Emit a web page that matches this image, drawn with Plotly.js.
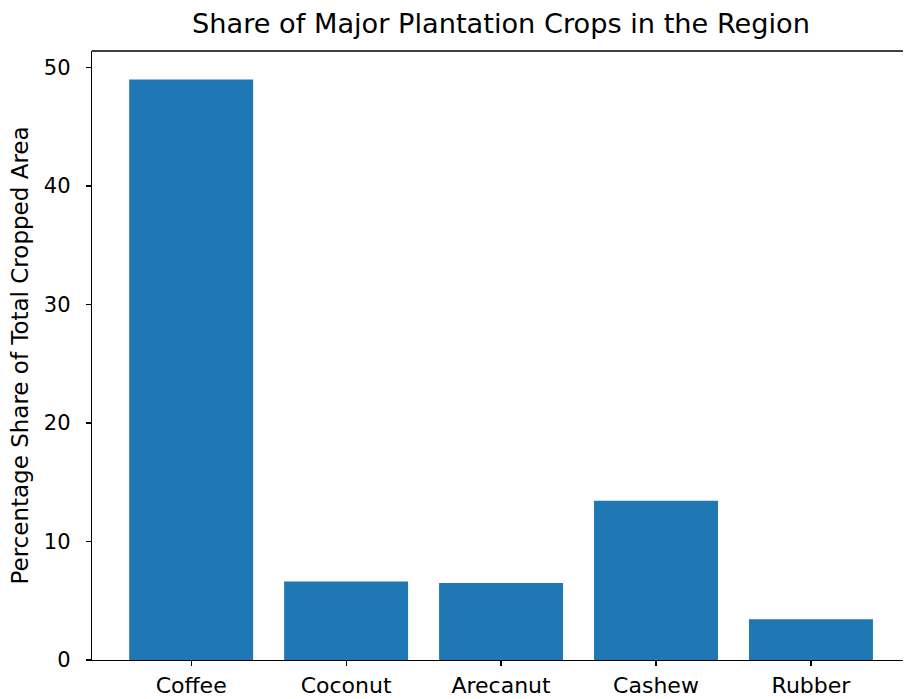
<!DOCTYPE html>
<html>
<head>
<meta charset="utf-8">
<script src="https://cdn.plot.ly/plotly-3.0.1.min.js"></script>
<style>
html, body { margin: 0; padding: 0; overflow: hidden; background: #fff; }
#chart { width: 904px; height: 699px; }
</style>
</head>
<body>
<div id="chart"></div>
<script>
const crops = ["Coffee", "Coconut", "Arecanut", "Cashew", "Rubber"];
const shares = [49.0, 6.63, 6.5, 13.45, 3.43];
const yTicks = [0, 10, 20, 30, 40, 50];

const font = "DejaVu Sans, sans-serif";

Plotly.newPlot("chart", [{
  type: "bar",
  x: crops.map((_, i) => i),
  y: shares,
  width: 0.8,
  marker: { color: "#1f77b4", line: { width: 0 } },
  hoverinfo: "x+y"
}], {
  width: 904,
  height: 699,
  margin: { l: 92, r: 1, t: 51, b: 39, pad: 0 },
  paper_bgcolor: "#ffffff",
  plot_bgcolor: "#ffffff",
  font: { family: font, color: "#000000", size: 21 },
  title: {
    text: "Share of Major Plantation Crops in the Region",
    font: { family: font, size: 27.2, color: "#000000" },
    x: 501 / 904, xanchor: "center", xref: "container",
    y: 1 - 23.5 / 699, yanchor: "middle", yref: "container"
  },
  showlegend: false,
  shapes: [{
    type: "line", xref: "paper", yref: "paper",
    x0: 0, x1: 1, y0: 1, y1: 1,
    line: { color: "#000000", width: 1.3 }
  }],
  xaxis: {
    range: [-0.64, 4.594],
    tickmode: "array",
    tickvals: crops.map((_, i) => i),
    ticktext: crops,
    ticks: "outside",
    ticklen: 5,
    tickwidth: 1.2,
    tickcolor: "#000000",
    showline: true,
    linecolor: "#000000",
    linewidth: 1.2,
    mirror: false,
    showgrid: false,
    zeroline: false,
    tickfont: { family: font, size: 22, color: "#000000" }
  },
  yaxis: {
    range: [0, 51.4],
    tickmode: "array",
    tickvals: yTicks,
    ticktext: yTicks.map(String),
    ticks: "outside",
    ticklen: 5,
    tickwidth: 1.2,
    tickcolor: "#000000",
    ticklabelstandoff: 11,
    showline: true,
    linecolor: "#000000",
    linewidth: 1.2,
    mirror: false,
    showgrid: false,
    zeroline: false,
    tickfont: { family: font, size: 21, color: "#000000" },
    title: {
      text: "Percentage Share of Total Cropped Area",
      font: { family: font, size: 23, color: "#000000" },
      standoff: 8
    }
  }
}, { displayModeBar: false, staticPlot: true });
</script>
</body>
</html>
